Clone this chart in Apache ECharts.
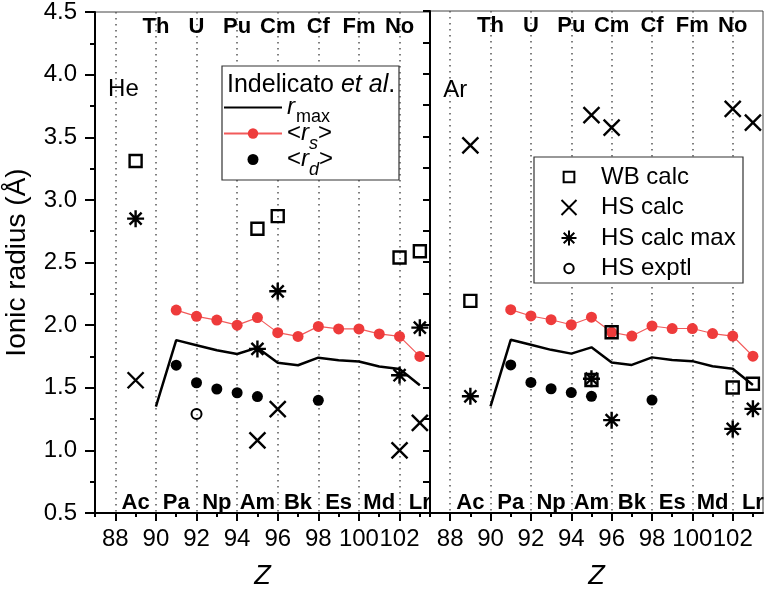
<!DOCTYPE html>
<html><head><meta charset="utf-8">
<script src="https://cdn.jsdelivr.net/npm/echarts@6/dist/echarts.min.js"></script>
<style>html,body{margin:0;padding:0;background:#fff}#c{width:768px;height:595px}</style>
</head><body><div id="c"></div>
<script>
const FONT = '"Liberation Sans", Arial, sans-serif';

// Indelicato et al. (same curves in both panels)
const rmaxZ = [90, 91, 92, 93, 94, 95, 96, 97, 98, 99, 100, 101, 102, 103];
const rmaxVal = [1.35, 1.88, 1.84, 1.80, 1.77, 1.82, 1.70, 1.68, 1.74, 1.72, 1.71, 1.67, 1.65, 1.52];
const rsZ = [91, 92, 93, 94, 95, 96, 97, 98, 99, 100, 101, 102, 103];
const rsVal = [2.12, 2.07, 2.04, 2.00, 2.06, 1.94, 1.91, 1.99, 1.97, 1.97, 1.93, 1.91, 1.75];
const rdZ = [91, 92, 93, 94, 95, 98];
const rdVal = [1.68, 1.54, 1.49, 1.46, 1.43, 1.40];

// He panel
const heWbZ = [89, 95, 96, 102, 103];
const heWb = [3.31, 2.77, 2.87, 2.54, 2.59];
const heHsZ = [89, 95, 96, 102, 103];
const heHs = [1.56, 1.08, 1.33, 1.00, 1.22];
const heMaxZ = [89, 95, 96, 102, 103];
const heMax = [2.85, 1.81, 2.27, 1.60, 1.98];
const heExpZ = [92];
const heExp = [1.29];

// Ar panel
const arWbZ = [89, 95, 96, 102, 103];
const arWb = [2.19, 1.56, 1.94, 1.50, 1.53];
const arHsZ = [89, 95, 96, 102, 103];
const arHs = [3.43, 3.67, 3.57, 3.72, 3.61];
const arMaxZ = [89, 95, 96, 102, 103];
const arMax = [1.43, 1.57, 1.24, 1.17, 1.33];
const arExpZ = [];
const arExp = [];

// axes / annotations
const xTicks = [88, 90, 92, 94, 96, 98, 100, 102];
const xMinorTicks = [87, 89, 91, 93, 95, 97, 99, 101, 103];
const topEl = ['Th', 'U', 'Pu', 'Cm', 'Cf', 'Fm', 'No'];
const topElZ = [90, 92, 94, 96, 98, 100, 102];
const botEl = ['Ac', 'Pa', 'Np', 'Am', 'Bk', 'Es', 'Md', 'Lr'];
const botElZ = [89, 91, 93, 95, 97, 99, 101, 103];
const topElY = 4.38;
const botElY = 0.58;
const panelGas = ['He', 'Ar'];
const panelGasZ = [88.4, 88.25];
const panelGasY = [3.88, 3.87];

const zip = (zs, vs) => zs.map((z, i) => [z, vs[i]]);

const X_PATH = 'path://M0,0L10,10M10,0L0,10';
const STAR_PATH = 'path://M5,0L5,10M0,5L10,5M1.46,1.46L8.54,8.54M8.54,1.46L1.46,8.54';

function mainX(gi) {
  return {
    gridIndex: gi, type: 'value', min: 87, max: 103.5, position: 'bottom',
    axisLine: { show: true, onZero: false, lineStyle: { color: '#000', width: 2 } },
    axisTick: { show: true, customValues: xTicks, length: 8, lineStyle: { color: '#000', width: 2 } },
    axisLabel: { customValues: xTicks, formatter: v => String(v), fontSize: 24, fontFamily: FONT, color: '#000', margin: 14 },
    splitLine: { show: true, lineStyle: { type: [1.5, 4.5], color: '#555', width: 1.5 } },
    name: 'Z', nameLocation: 'middle', nameGap: 50,
    nameTextStyle: { fontSize: 27, fontStyle: 'italic', fontFamily: FONT, color: '#000' }
  };
}
function minorX(gi) {
  return {
    gridIndex: gi, type: 'value', min: 87, max: 103.5, position: 'bottom', offset: 0,
    axisLine: { show: false },
    axisTick: { show: true, customValues: xMinorTicks, length: 4, lineStyle: { color: '#000', width: 2 } },
    axisLabel: { show: false }, splitLine: { show: false }
  };
}

function panelSeries(p) {
  const xi = p * 2, yi = p;
  const wbZ = p ? arWbZ : heWbZ, wb = p ? arWb : heWb;
  const hsZ = p ? arHsZ : heHsZ, hs = p ? arHs : heHs;
  const mxZ = p ? arMaxZ : heMaxZ, mx = p ? arMax : heMax;
  const exZ = p ? arExpZ : heExpZ, ex = p ? arExp : heExp;
  const base = { xAxisIndex: xi, yAxisIndex: yi, animation: false };
  const open = { color: 'transparent', borderColor: '#000', borderWidth: 2.4, opacity: 1 };
  const lbl = (zs, y, names, style) => Object.assign({}, base, {
    type: 'scatter', silent: true, symbolSize: 0, itemStyle: { color: '#000', opacity: 1 },
    data: zs.map((z, i) => [z, y, names[i]]),
    label: Object.assign({ show: true, position: 'inside', formatter: q => q.data[2], color: '#000', opacity: 1, fontFamily: FONT }, style),
    z: 6
  });
  return [
    Object.assign({}, base, { name: 'rmax', type: 'line', symbol: 'none', data: zip(rmaxZ, rmaxVal),
      lineStyle: { color: '#000', width: 2.5 }, itemStyle: { color: 'transparent', borderWidth: 0 }, z: 2 }),
    Object.assign({}, base, { name: 'rs', type: 'line', symbol: 'circle', symbolSize: 11, data: zip(rsZ, rsVal),
      lineStyle: { color: '#F25A5A', width: 1.2 }, itemStyle: { color: '#EE3B3B', opacity: 1 }, z: 3 }),
    Object.assign({}, base, { name: 'rd', type: 'scatter', symbol: 'circle', symbolSize: 11, data: zip(rdZ, rdVal),
      itemStyle: { color: '#000', opacity: 1 }, z: 3 }),
    Object.assign({}, base, { name: 'WB calc', type: 'scatter', symbol: 'rect', symbolSize: 12, data: zip(wbZ, wb),
      itemStyle: open, z: 4 }),
    Object.assign({}, base, { name: 'HS calc', type: 'scatter', symbol: X_PATH, symbolSize: 16, data: zip(hsZ, hs),
      itemStyle: open, z: 4 }),
    Object.assign({}, base, { name: 'HS calc max', type: 'scatter', symbol: STAR_PATH, symbolSize: 17, data: zip(mxZ, mx),
      itemStyle: open, z: 4 }),
    Object.assign({}, base, { name: 'HS exptl', type: 'scatter', symbol: 'circle', symbolSize: 10, data: zip(exZ, ex),
      itemStyle: { color: 'transparent', borderColor: '#000', borderWidth: 2, opacity: 1 }, z: 4 }),
    lbl(topElZ, topElY, topEl, { fontSize: 22, fontWeight: 'bold' }),
    lbl(botElZ, botElY, botEl, { fontSize: 22, fontWeight: 'bold' }),
    lbl([panelGasZ[p]], panelGasY[p], [panelGas[p]], { fontSize: 24 })
  ];
}

const legendNames = {
  rmax: '{i|r}{sub|max}',
  rs: '{n|<}{i|r}{isub|s}{n|>}',
  rd: '{n|<}{i|r}{isub|d}{n|>}'
};
const richLegend = {
  n: { fontSize: 24, lineHeight: 24, verticalAlign: 'top', fontFamily: FONT, color: '#000' },
  i: { fontSize: 24, lineHeight: 24, verticalAlign: 'top', fontStyle: 'italic', fontFamily: FONT, color: '#000' },
  sub: { fontSize: 18, lineHeight: 18, verticalAlign: 'top', padding: [13, 0, 0, 1], fontFamily: FONT, color: '#000' },
  isub: { fontSize: 18, lineHeight: 18, verticalAlign: 'top', padding: [13, 0, 0, 0], fontStyle: 'italic', fontFamily: FONT, color: '#000' }
};

const option = {
  animation: false,
  backgroundColor: '#fff',
  grid: [
    { left: 95, top: 11, width: 335, height: 507, show: true, borderColor: '#444', borderWidth: 1, backgroundColor: 'transparent' },
    { left: 430, top: 11, width: 333, height: 507, show: true, borderColor: '#444', borderWidth: 1, backgroundColor: 'transparent' }
  ],
  xAxis: [mainX(0), minorX(0), mainX(1), minorX(1)],
  yAxis: [
    { gridIndex: 0, type: 'value', min: 0.5, max: 4.5, interval: 0.5,
      axisLine: { show: true, lineStyle: { color: '#000', width: 2 } },
      axisTick: { show: true, length: 10, lineStyle: { color: '#000', width: 2 } },
      minorTick: { show: true, splitNumber: 2, length: 5, lineStyle: { color: '#000', width: 2 } },
      axisLabel: { formatter: v => v.toFixed(1), fontSize: 24, fontFamily: FONT, color: '#000', margin: 18 },
      splitLine: { show: false },
      name: 'Ionic radius (Å)', nameLocation: 'middle', nameGap: 64,
      nameTextStyle: { fontSize: 28, fontFamily: FONT, color: '#000' } },
    { gridIndex: 1, type: 'value', min: 0.5, max: 4.5, interval: 0.25,
      axisLine: { show: true, lineStyle: { color: '#000', width: 2 } },
      axisTick: { show: true, length: 7, lineStyle: { color: '#000', width: 2 } },
      axisLabel: { show: false }, splitLine: { show: false } }
  ],
  legend: [
    { orient: 'vertical', left: 223, top: 95.5, padding: 0, itemGap: -5, itemWidth: 58, itemHeight: 13,
      selectedMode: false, z: 6,
      data: [{ name: 'rmax' }, { name: 'rs' },
             { name: 'rd', icon: 'path://M-1,-1M12,12M5.5,0A5.5,5.5,0,1,1,5.5,11A5.5,5.5,0,1,1,5.5,0Z' }],
      formatter: n => legendNames[n],
      textStyle: { fontSize: 24, fontFamily: FONT, color: '#000', rich: richLegend } },
    { orient: 'vertical', left: 560.5, top: 165, padding: 0, itemGap: 6.5, itemWidth: 54, itemHeight: 15,
      selectedMode: false, z: 6,
      data: [
        { name: 'WB calc', icon: 'path://M-2,-2M12,12M0,0L10,0L10,10L0,10Z' },
        { name: 'HS calc', icon: 'path://M0,0L15,15M15,0L0,15' },
        { name: 'HS calc max', icon: 'path://M7.5,0L7.5,15M0,7.5L15,7.5M2.2,2.2L12.8,12.8M12.8,2.2L2.2,12.8' },
        { name: 'HS exptl', icon: 'path://M-3,-3M13,13M5,0A5,5,0,1,1,5,10A5,5,0,1,1,5,0Z' }
      ],
      textStyle: { fontSize: 24, lineHeight: 24, fontFamily: FONT, color: '#000' } }
  ],
  graphic: [
    { type: 'rect', z: 5, shape: { x: 222, y: 66, width: 177, height: 114 },
      style: { fill: '#fff', stroke: '#333', lineWidth: 1.2 } },
    { type: 'rect', z: 5, shape: { x: 534, y: 157, width: 209, height: 126 },
      style: { fill: '#fff', stroke: '#333', lineWidth: 1.2 } },
    { type: 'text', z: 7, x: 227, y: 85,
      style: { text: '{n|Indelicato }{i|et al}{n|.}', verticalAlign: 'middle',
        rich: { n: { fontSize: 25, fontFamily: FONT, fill: '#000' }, i: { fontSize: 25, fontStyle: 'italic', fontFamily: FONT, fill: '#000' } } } }
  ],
  series: panelSeries(0).concat(panelSeries(1))
};

const chart = echarts.init(document.getElementById('c'), null, { renderer: 'canvas' });
chart.setOption(option);
</script>
</body></html>
